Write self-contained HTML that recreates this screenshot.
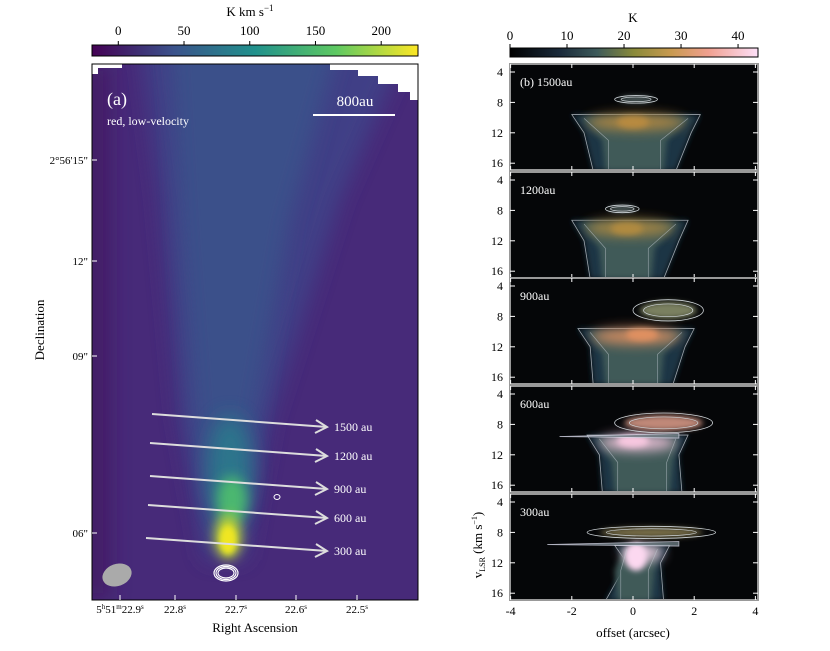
<!DOCTYPE html>
<html><head><meta charset="utf-8"><style>
body{margin:0;background:#fff;width:830px;height:646px;overflow:hidden;font-family:"Liberation Serif",serif}
svg text{font-family:"Liberation Serif",serif}
</style></head><body>
<svg id="fig" width="830" height="646" xmlns="http://www.w3.org/2000/svg">
<defs>
<linearGradient id="viridis" x1="0" x2="1"><stop offset="0" stop-color="#440154"/><stop offset="0.25" stop-color="#3b528b"/><stop offset="0.5" stop-color="#21918c"/><stop offset="0.75" stop-color="#5ec962"/><stop offset="1" stop-color="#fde725"/></linearGradient>
<linearGradient id="cubehelix" x1="0" x2="1"><stop offset="0" stop-color="#000"/><stop offset="0.2" stop-color="#1a2a3a"/><stop offset="0.35" stop-color="#3d5a5a"/><stop offset="0.5" stop-color="#8a8a3a"/><stop offset="0.65" stop-color="#c89a50"/><stop offset="0.8" stop-color="#f0a090"/><stop offset="1" stop-color="#fde0f8"/></linearGradient>
<filter id="b6" x="-100%" y="-100%" width="300%" height="300%"><feGaussianBlur stdDeviation="6"/></filter>
<filter id="b10" x="-100%" y="-100%" width="300%" height="300%"><feGaussianBlur stdDeviation="10"/></filter>
<filter id="b3" x="-100%" y="-100%" width="300%" height="300%"><feGaussianBlur stdDeviation="3"/></filter>
<clipPath id="mapclip"><rect x="92" y="64" width="326" height="536"/></clipPath>
</defs>
<g id="left"></g>
<g id="right"></g>
</svg>
<script>
const NS='http://www.w3.org/2000/svg';
const svg=document.getElementById('fig');
function mk(tag,attrs,parent,txt){const e=document.createElementNS(NS,tag);for(const k in attrs)e.setAttribute(k,attrs[k]);if(txt!==undefined)e.textContent=txt;(parent||svg).appendChild(e);return e;}

// ---- data ----
const cbLeftTicks=[0,50,100,150,200];
const cbLeftRange=[-20,228];
const cbRightTicks=[0,10,20,30,40];
const cbRightRange=[0,43.5];
const decLabels=['2°56\'15"','12"','09"','06"'];
const decLabelY=[160,261,356,533];
const raLabels=['22.9','22.8','22.7','22.6','22.5'];
const raLabelX=[120,175,236,296,357];
const cutLabels=['1500 au','1200 au','900 au','600 au','300 au'];
const pvNames=['(b) 1500au','1200au','900au','600au','300au'];
const vTicks=[4,8,12,16];
const offTicks=[-4,-2,0,2,4];

const L=document.getElementById('left'), R=document.getElementById('right');

// left colorbar
const cbL=mk('g',{},L);


mk('rect',{x:92,y:45,width:326,height:11,fill:'url(#viridis)',stroke:'#000','stroke-width':1},cbL);
const cxL=v=>92+(v-cbLeftRange[0])/(cbLeftRange[1]-cbLeftRange[0])*326;
cbLeftTicks.forEach(t=>{mk('line',{x1:cxL(t),x2:cxL(t),y1:41,y2:45,stroke:'#000'},cbL);
 const tx=mk('text',{x:cxL(t),y:35,'font-size':13,'text-anchor':'middle'},cbL,t);
 
 });
const ut=mk('text',{x:250,y:16,'font-size':13,'text-anchor':'middle'},cbL);


ut.innerHTML='K km s<tspan dy="-5" font-size="9">−1</tspan>';

// map
const map=mk('g',{'clip-path':'url(#mapclip)'},L);


mk('rect',{x:92,y:64,width:326,height:536,fill:'#472a79'},map);
mk('rect',{x:80,y:64,width:30,height:536,fill:'#42145f',filter:'url(#b10)',opacity:0.7},map);
mk('polygon',{points:'140,40 410,40 340,200 270,420 245,560 205,560 180,420 160,200',fill:'#404388',filter:'url(#b10)',opacity:0.9},map);
mk('polygon',{points:'170,40 340,40 290,220 255,420 238,540 212,540 195,420 180,220',fill:'#3b538b',filter:'url(#b10)',opacity:0.85},map);
mk('ellipse',{cx:230,cy:470,rx:22,ry:55,fill:'#2a7a8c',filter:'url(#b10)',opacity:0.9},map);
mk('ellipse',{cx:232,cy:500,rx:15,ry:24,fill:'#4cb870',filter:'url(#b6)'},map);
mk('ellipse',{cx:228,cy:537,rx:13,ry:22,fill:'#c8dc30',filter:'url(#b6)'},map);
mk('ellipse',{cx:228,cy:540,rx:8,ry:14,fill:'#f0e620',filter:'url(#b3)'},map);
// white masked corners
mk('path',{d:'M92,64 H122 V68 H98 V74 H92 Z',fill:'#fff'},map);
mk('path',{d:'M330,64 H418 V100 H410 V92 H398 V84 H378 V76 H358 V70 H330 Z',fill:'#fff'},map);
mk('rect',{x:92,y:64,width:326,height:536,fill:'none',stroke:'#000','stroke-width':1},L);
// text
const pa=mk('text',{x:107,y:105,'font-size':18,fill:'#fff'},L,'(a)');

const rl=mk('text',{x:107,y:125,'font-size':12,fill:'#fff'},L,'red, low-velocity');

const sb=mk('g',{},L);

mk('text',{x:355,y:106,'font-size':15,fill:'#fff','text-anchor':'middle'},sb,'800au');
mk('line',{x1:313,x2:395,y1:115,y2:115,stroke:'#fff','stroke-width':2},sb);
// arrows
const arrStart=[[152,414],[150,443],[150,476],[148,505],[146,538]];
cutLabels.forEach((lab,i)=>{const g=mk('g',{},L);
 
 const [x1,y1]=arrStart[i];const x2=327,y2=y1+13;
 mk('line',{x1,y1,x2,y2,stroke:'#ddd','stroke-width':2},g);
 mk('polyline',{points:`${x2-11},${y2-7} ${x2},${y2} ${x2-12},${y2+6}`,fill:'none',stroke:'#ddd','stroke-width':2},g);
 mk('text',{x:x2+7,y:y2+4,'font-size':12,fill:'#fff'},g,lab);});
// contours & beam
[[8,5],[10,6.5],[12,8]].forEach(([rx,ry])=>mk('ellipse',{cx:226,cy:573,rx,ry,fill:'none',stroke:'#fff','stroke-width':1.2},L));
mk('ellipse',{cx:277,cy:497,rx:3,ry:2.5,fill:'none',stroke:'#fff'},L);
const bm=mk('ellipse',{cx:117,cy:575,rx:15,ry:11,fill:'#aaa',transform:'rotate(-20 117 575)'},L);

// axes labels
decLabels.forEach((t,i)=>{const e=mk('text',{x:88,y:decLabelY[i]+4,'font-size':11,'text-anchor':'end'},L,t);
 
 mk('line',{x1:92,x2:97,y1:decLabelY[i],y2:decLabelY[i],stroke:'#fff'},L);});
raLabels.forEach((t,i)=>{const e=mk('text',{x:raLabelX[i],y:613,'font-size':11,'text-anchor':'middle'},L);
 
 if(i===0)e.innerHTML='5<tspan dy="-4" font-size="7">h</tspan><tspan dy="4">51</tspan><tspan dy="-4" font-size="7">m</tspan><tspan dy="4">22.9</tspan><tspan dy="-4" font-size="7">s</tspan>';
 else e.innerHTML=t+'<tspan dy="-4" font-size="7">s</tspan>';
 mk('line',{x1:raLabelX[i],x2:raLabelX[i],y1:595,y2:600,stroke:'#fff'},L);});
const rax=mk('text',{x:255,y:632,'font-size':13,'text-anchor':'middle'},L,'Right Ascension');

const dax=mk('text',{x:44,y:330,'font-size':13,'text-anchor':'middle',transform:'rotate(-90 44 330)'},L,'Declination');


// right colorbar
const cbR=mk('g',{},R);

mk('rect',{x:510,y:48,width:248,height:9,fill:'url(#cubehelix)',stroke:'#000'},cbR);
const cxR=v=>510+(v-cbRightRange[0])/(cbRightRange[1]-cbRightRange[0])*248;
cbRightTicks.forEach(t=>{mk('line',{x1:cxR(t),x2:cxR(t),y1:44,y2:48,stroke:'#000'},cbR);
 const tx=mk('text',{x:cxR(t),y:40,'font-size':13,'text-anchor':'middle'},cbR,t);
 });
mk('text',{x:633,y:22,'font-size':13,'text-anchor':'middle'},cbR,'K');

// pv panels
const panTop=[64,172,278,386,494], panH=106, X0=510, W=248;
const ox=o=>633+o*30.6;
// upper blob: [offMin, offMax, v, halfHeight(kms), color]
const upperBlob=[[-0.6,0.8,7.6,0.5,'#5a6a6a'],[-0.9,0.2,7.8,0.5,'#5a6a6a'],[0.0,2.3,7.2,1.4,'#7a8060'],[-0.6,2.6,7.8,1.3,'#c08878'],[-1.5,2.7,8.0,0.8,'#7a7048']];
// lower body: [offMin, offMax, vTop, bottomMin, bottomMax, core color, core off, core v]
const lowerBody=[[-2.0,2.2,9.6,-1.3,1.4,'#b88a40',0,10.6],[-2.0,1.8,9.3,-1.4,1.0,'#b08a40',-0.2,10.4],[-1.8,2.0,9.6,-1.3,1.3,'#e09060',0.3,10.4],[-1.5,1.8,9.4,-1.0,1.6,'#f8c8e0',0,10.2],[-0.6,1.2,9.7,-0.9,1.0,'#fcd8f0',0.1,11.2]];
pvNames.forEach((nm,i)=>{
 const T=panTop[i];
 const vy=v=>T+8+(v-4)*7.6;
 const g=mk('g',{},R);
 
 const cid='pc'+i;const cp=mk('clipPath',{id:cid},g);mk('rect',{x:X0,y:T,width:W,height:panH},cp);
 const c=mk('g',{'clip-path':`url(#${cid})`},g);
 mk('rect',{x:X0,y:T,width:W,height:panH,fill:'#050608'},c);
 const lb=lowerBody[i];
 const bodyPts=`${ox(lb[0])},${vy(lb[2])} ${ox(lb[1])},${vy(lb[2])} ${ox(lb[1]-0.3)},${vy(12)} ${ox(lb[4])},${vy(17)} ${ox(lb[3])},${vy(17)} ${ox(lb[0]+0.4)},${vy(12)}`;
 mk('polygon',{points:bodyPts,fill:'#1e3444',filter:'url(#b3)'},c);
 mk('polygon',{points:bodyPts,fill:'none',stroke:'#c0c8d0','stroke-width':0.8,opacity:0.8},c);
 mk('polygon',{points:`${ox(lb[0]+0.3)},${vy(lb[2]+0.3)} ${ox(lb[1]-0.3)},${vy(lb[2]+0.3)} ${ox(lb[4]-0.3)},${vy(13)} ${ox(lb[4]-0.4)},${vy(17)} ${ox(lb[3]+0.4)},${vy(17)} ${ox(lb[3]+0.3)},${vy(13)}`,fill:'#3f5a58',filter:'url(#b3)'},c);
 mk('ellipse',{cx:ox((lb[0]+lb[1])/2),cy:vy(lb[2]+1),rx:(ox(lb[1])-ox(lb[0]))*0.38,ry:8,fill:lb[5],filter:'url(#b6)',opacity:0.9},c);
 mk('ellipse',{cx:ox(lb[6]),cy:vy(lb[7]),rx:i===4?11:16,ry:i===4?14:6,fill:lb[5],filter:'url(#b3)'},c);
 mk('polyline',{points:`${ox(lb[0]+0.4)},${vy(lb[2]+0.5)} ${ox(lb[3]+0.5)},${vy(13)} ${ox(lb[3]+0.5)},${vy(17)}`,fill:'none',stroke:'#c0c8d0','stroke-width':0.7,opacity:0.6},c);
 mk('polyline',{points:`${ox(lb[1]-0.4)},${vy(lb[2]+0.5)} ${ox(lb[4]-0.5)},${vy(13)} ${ox(lb[4]-0.5)},${vy(17)}`,fill:'none',stroke:'#c0c8d0','stroke-width':0.7,opacity:0.6},c);
 const ub=upperBlob[i];
 const ucx=ox((ub[0]+ub[1])/2), urx=(ox(ub[1])-ox(ub[0]))/2, uy=vy(ub[2]), ury=ub[3]*7.6;
 mk('ellipse',{cx:ucx,cy:uy,rx:urx*0.8,ry:ury*0.8,fill:ub[4],filter:'url(#b3)'},c);
 mk('ellipse',{cx:ucx,cy:uy,rx:urx,ry:ury,fill:'none',stroke:'#d0d6da','stroke-width':0.8},c);
 mk('ellipse',{cx:ucx,cy:uy,rx:urx*0.7,ry:ury*0.6,fill:'none',stroke:'#d0d6da','stroke-width':0.7},c);
 if(i>=3){mk('polygon',{points:`${ox(i===4?-2.8:-2.4)},${vy(9.6)} ${ox(1.5)},${vy(9.2)} ${ox(1.5)},${vy(9.8)}`,fill:'#6a7a80',stroke:'#dde','stroke-width':0.8,opacity:0.8},c);}
 mk('rect',{x:X0,y:T,width:W,height:panH,fill:'none',stroke:'#999','stroke-width':2},g);
 const tl=mk('text',{x:520,y:T+22,'font-size':12,fill:'#fff'},g,nm);
 
 vTicks.forEach(v=>{mk('text',{x:503,y:vy(v)+4,'font-size':12,'text-anchor':'end'},g,v);
  mk('line',{x1:X0,x2:X0+5,y1:vy(v),y2:vy(v),stroke:'#fff'},g);mk('line',{x1:X0+W-5,x2:X0+W,y1:vy(v),y2:vy(v),stroke:'#fff'},g);});
 offTicks.forEach(o=>{mk('line',{x1:ox(o),x2:ox(o),y1:T,y2:T+4,stroke:'#fff'},g);mk('line',{x1:ox(o),x2:ox(o),y1:T+panH-4,y2:T+panH,stroke:'#fff'},g);});
});
offTicks.forEach(o=>{const e=mk('text',{x:ox(o),y:615,'font-size':12,'text-anchor':'middle'},R,o===0?'0':(o<0?'-'+(-o):o));
 });
const ox_t=mk('text',{x:633,y:637,'font-size':13,'text-anchor':'middle'},R,'offset (arcsec)');

const vt=mk('text',{x:482,y:545,'font-size':13,'text-anchor':'middle',transform:'rotate(-90 482 545)'},R);

vt.innerHTML='v<tspan dy="3" font-size="8">LSR</tspan><tspan dy="-3"> (km s</tspan><tspan dy="-5" font-size="8">−1</tspan><tspan dy="5">)</tspan>';
</script>
</body></html>
